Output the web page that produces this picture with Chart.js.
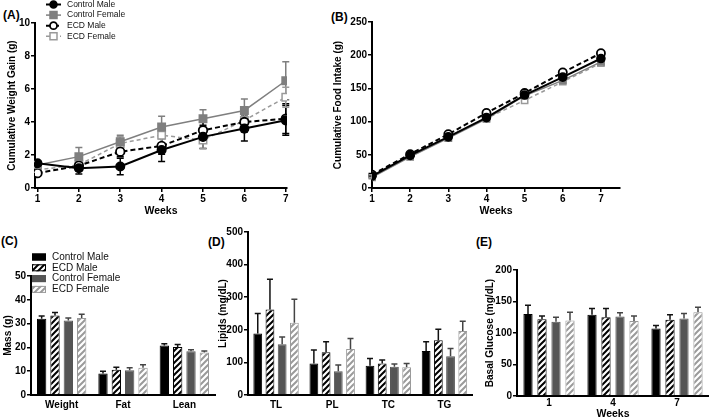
<!DOCTYPE html>
<html>
<head>
<meta charset="utf-8">
<script src="https://cdn.jsdelivr.net/npm/chart.js@4.4.1/dist/chart.umd.min.js"></script>
<style>
  body { margin: 0; background: #fff; width: 709px; height: 420px; overflow: hidden; position: relative;
         font-family: 'Liberation Sans', Arial, sans-serif; }
  canvas { position: absolute; }
  .tag { position: absolute; font-weight: bold; font-size: 12px; line-height: 14px; color: #000; }
</style>
</head>
<body>
<div class="tag" style="left:3px;top:8px">(A)</div>
<div class="tag" style="left:331px;top:10px">(B)</div>
<div class="tag" style="left:1px;top:234px">(C)</div>
<div class="tag" style="left:208px;top:235px">(D)</div>
<div class="tag" style="left:476px;top:235px">(E)</div>

<canvas id="chartA" width="300" height="225" style="left:0;top:0"></canvas>
<canvas id="chartB" width="300" height="225" style="left:328px;top:0"></canvas>
<canvas id="chartC" width="222" height="195" style="left:0;top:225px"></canvas>
<canvas id="chartD" width="267" height="195" style="left:213px;top:225px"></canvas>
<canvas id="chartE" width="229" height="195" style="left:480px;top:225px"></canvas>

<script>
// ---- data ----
const groupLabels = ["Control Male", "Control Female", "ECD Male", "ECD Female"];
const weeks = [1, 2, 3, 4, 5, 6, 7];

// (A) cumulative weight gain (g), mean and SEM
const gainControlMale   = [1.5, 1.2, 1.3, 2.3, 3.1, 3.6, 4.1];
const gainControlFemale = [1.4, 1.9, 2.8, 3.7, 4.2, 4.7, 6.5];
const gainEcdMale       = [0.9, 1.35, 2.2, 2.55, 3.5, 4.0, 4.2];
const gainEcdFemale     = [1.1, 1.4, 2.7, 3.2, 2.9, 4.1, 5.5];
const gainErrControlMale   = [0.15, 0.35, 0.5, 0.7, 0.7, 0.75, 0.9];
const gainErrControlFemale = [0.2, 0.55, 0.4, 0.65, 0.55, 0.7, 1.15];
const gainErrEcdMale       = [0.15, 0.3, 0.3, 0.5, 0.6, 0.6, 0.9];
const gainErrEcdFemale     = [0.15, 0.3, 0.4, 0.5, 0.5, 0.5, 0.6];

// (B) cumulative food intake (g)
const intakeControlMale   = [18, 49, 77, 106, 140, 167, 195];
const intakeControlFemale = [16, 47, 75, 104, 139, 162, 190];
const intakeEcdMale       = [20, 51, 81, 113, 143, 174, 203];
const intakeEcdFemale     = [18, 49, 76, 105, 132, 160, 188];
const intakeErr           = [2, 2, 2, 3, 3, 3, 3];

// (C) body composition (g)
const massCategories = ["Weight", "Fat", "Lean"];
const massControlMale   = [32.0, 9.0, 20.8];
const massEcdMale       = [33.4, 10.6, 20.2];
const massControlFemale = [31.3, 10.4, 18.4];
const massEcdFemale     = [32.4, 11.5, 17.9];
const massErrControlMale   = [1.2, 1.0, 0.7];
const massErrEcdMale       = [1.3, 1.1, 1.0];
const massErrControlFemale = [1.1, 1.1, 0.6];
const massErrEcdFemale     = [1.5, 1.2, 0.6];

// (D) plasma lipids (mg/dL)
const lipidCategories = ["TL", "PL", "TC", "TG"];
const lipidControlMale   = [189, 97, 90, 135];
const lipidEcdMale       = [262, 131, 97, 168];
const lipidControlFemale = [156, 73, 87, 119];
const lipidEcdFemale     = [222, 141, 85, 196];
const lipidErrControlMale   = [61, 41, 22, 28];
const lipidErrEcdMale       = [93, 32, 10, 34];
const lipidErrControlFemale = [22, 19, 8, 24];
const lipidErrEcdFemale     = [72, 32, 12, 30];

// (E) basal glucose (mg/dL)
const glucoseWeeks = ["1", "4", "7"];
const glucoseControlMale   = [130, 129, 107];
const glucoseEcdMale       = [122, 125, 121];
const glucoseControlFemale = [118, 126, 123];
const glucoseEcdFemale     = [120, 119, 133];
const glucoseErrControlMale   = [14, 10, 5];
const glucoseErrEcdMale       = [5, 14, 8];
const glucoseErrControlFemale = [7, 6, 8];
const glucoseErrEcdFemale     = [13, 8, 8];

// ---- common setup ----
const FONT = "'Liberation Sans', Arial, sans-serif";
Chart.defaults.font.family = FONT;
Chart.defaults.color = "#000";
Chart.defaults.animation = false;
Chart.defaults.plugins.legend.display = false;
Chart.defaults.plugins.tooltip.enabled = false;

function hatch(color) {
  const s = 6;
  const c = document.createElement("canvas");
  c.width = s; c.height = s;
  const g = c.getContext("2d");
  g.fillStyle = "#fff";
  g.fillRect(0, 0, s, s);
  g.strokeStyle = color;
  g.lineWidth = 2;
  g.beginPath();
  g.moveTo(0, s); g.lineTo(s, 0);
  g.moveTo(-1, 1); g.lineTo(1, -1);
  g.moveTo(s - 1, s + 1); g.lineTo(s + 1, s - 1);
  g.stroke();
  return g.createPattern(c, "repeat");
}

// error bars (drawn under the marks)
const errorBars = {
  id: "errorBars",
  beforeDatasetsDraw(chart) {
    const ctx = chart.ctx;
    chart.data.datasets.forEach((ds, i) => {
      if (!ds.errors) return;
      const meta = chart.getDatasetMeta(i);
      const yScale = chart.scales[meta.yAxisID];
      ctx.save();
      ctx.strokeStyle = ds.errorColor || "#000";
      ctx.lineWidth = 1.5;
      const cap = ds.errorCap || 3;
      meta.data.forEach((el, j) => {
        const raw = ds.data[j];
        const v = typeof raw === "object" ? raw.y : raw;
        const e = ds.errors[j];
        const top = yScale.getPixelForValue(v + e);
        const bot = ds.errorBoth ? yScale.getPixelForValue(v - e) : el.y;
        ctx.beginPath();
        ctx.moveTo(el.x, bot); ctx.lineTo(el.x, top);
        ctx.moveTo(el.x - cap, top); ctx.lineTo(el.x + cap, top);
        if (ds.errorBoth) { ctx.moveTo(el.x - cap, bot); ctx.lineTo(el.x + cap, bot); }
        ctx.stroke();
      });
      ctx.restore();
    });
  }
};

// small legends drawn straight onto the canvas
function makeLegend(cfg) {
  return {
    id: "panelLegend",
    afterDraw(chart) {
      const ctx = chart.ctx;
      ctx.save();
      ctx.font = cfg.fontSize + "px " + FONT;
      ctx.textBaseline = "middle";
      chart.data.datasets.forEach((ds, i) => {
        const cy = cfg.y + i * cfg.rowH;
        if (cfg.kind === "line") {
          ctx.strokeStyle = ds.borderColor;
          ctx.lineWidth = ds.borderWidth;
          ctx.setLineDash(ds.borderDash || []);
          ctx.beginPath();
          ctx.moveTo(cfg.x, cy); ctx.lineTo(cfg.x + cfg.symW, cy);
          ctx.stroke();
          ctx.setLineDash([]);
          const cx = cfg.x + cfg.symW / 2;
          ctx.fillStyle = ds.pointBackgroundColor;
          ctx.strokeStyle = ds.pointBorderColor;
          ctx.lineWidth = ds.pointBorderWidth;
          ctx.beginPath();
          if (ds.pointStyle === "rect") {
            const h = 3.5;
            ctx.rect(cx - h, cy - h, 2 * h, 2 * h);
          } else {
            ctx.arc(cx, cy, 3.5, 0, Math.PI * 2);
          }
          ctx.fill();
          ctx.stroke();
        } else {
          ctx.fillStyle = ds.backgroundColor;
          ctx.fillRect(cfg.x, cy - cfg.boxH / 2, cfg.symW, cfg.boxH);
          ctx.strokeStyle = ds.borderColor;
          ctx.lineWidth = 1;
          ctx.strokeRect(cfg.x + 0.5, cy - cfg.boxH / 2 + 0.5, cfg.symW - 1, cfg.boxH - 1);
        }
        ctx.fillStyle = "#111";
        ctx.fillText(ds.label, cfg.textX, cy);
      });
      ctx.restore();
    }
  };
}

function yAxis(o) {
  return {
    min: o.min, max: o.max,
    afterFit: (s) => { s.width = o.width; },
    ticks: { stepSize: o.step, color: "#000", padding: 1, font: { size: 10, weight: "bold" } },
    grid: { display: true, drawOnChartArea: false, drawTicks: true, tickLength: 4, color: "#000", lineWidth: 1.5 },
    border: { color: "#000", width: 2 },
    title: { display: true, text: o.title, color: "#000", font: { size: 10, weight: "bold" },
             padding: { top: o.titlePad, bottom: 0 } }
  };
}

function weekAxis(o) {
  return {
    type: "linear", min: o.min, max: o.max,
    afterBuildTicks: (s) => { s.ticks = weeks.map((w) => ({ value: w })); },
    afterFit: (s) => { s.height = o.height; },
    ticks: { color: "#000", padding: 1, font: { size: 10, weight: "bold" } },
    grid: { display: true, drawOnChartArea: false, drawTicks: true, tickLength: 4, color: "#000", lineWidth: 1.5 },
    border: { color: "#000", width: 2 },
    title: { display: true, text: "Weeks", color: "#000", font: { size: 10.5, weight: "bold" },
             padding: { top: 0, bottom: o.titlePad } }
  };
}

function catAxis(o) {
  return {
    type: "category",
    afterFit: (s) => { s.height = o.height; },
    ticks: { color: "#000", padding: o.tickPad, font: { size: 10, weight: "bold" } },
    grid: { display: false, drawTicks: false, tickLength: 0 },
    border: { color: "#000", width: 2 },
    title: { display: !!o.title, text: o.title || "", color: "#000", font: { size: 10.5, weight: "bold" },
             padding: { top: 0, bottom: 0 } }
  };
}

// line series styles, in the order of groupLabels
const lineStyles = [
  { color: "#000", width: 2, dash: [], pointStyle: "circle", radius: 4.5, fill: "#000", pbw: 1.5 },
  { color: "#7f7f7f", width: 1.5, dash: [], pointStyle: "rect", radius: 5.5, fill: "#7f7f7f", pbw: 1.5 },
  { color: "#000", width: 2, dash: [5, 3], pointStyle: "circle", radius: 4.5, fill: "#fff", pbw: 1.8 },
  { color: "#9a9a9a", width: 1.5, dash: [4, 3], pointStyle: "rect", radius: 5.5, fill: "#fff", pbw: 1.5 }
];

function lineSet(idx, values, errors, markerScale) {
  const st = lineStyles[idx];
  return {
    label: groupLabels[idx],
    data: weeks.map((w, i) => ({ x: w, y: values[i] })),
    errors: errors, errorBoth: true, errorColor: st.color, errorCap: 3.5,
    borderColor: st.color, borderWidth: st.width, borderDash: st.dash,
    pointStyle: st.pointStyle, pointRadius: st.radius * markerScale,
    pointBackgroundColor: st.fill, pointBorderColor: st.color, pointBorderWidth: st.pbw,
    tension: 0, fill: false
  };
}

// bar series styles: CM, EM, CF, EF
const barStyles = [
  { label: "Control Male", bg: "#000", border: "#000", err: "#111" },
  { label: "ECD Male", bg: hatch("#000"), border: "#000", err: "#111" },
  { label: "Control Female", bg: "#555", border: "#555", err: "#444" },
  { label: "ECD Female", bg: hatch("#9a9a9a"), border: "#9a9a9a", err: "#444" }
];

function barSets(series, errors, catPct, barPct) {
  return series.map((vals, i) => ({
    label: barStyles[i].label,
    data: vals,
    errors: errors[i], errorColor: barStyles[i].err, errorCap: 3,
    backgroundColor: barStyles[i].bg,
    borderColor: barStyles[i].border,
    borderWidth: 1,
    categoryPercentage: catPct,
    barPercentage: barPct
  }));
}

// ---- (A) weight gain ----
new Chart(document.getElementById("chartA"), {
  type: "line",
  data: {
    datasets: [
      lineSet(0, gainControlMale, gainErrControlMale, 0.95),
      lineSet(1, gainControlFemale, gainErrControlFemale, 0.95),
      lineSet(2, gainEcdMale, gainErrEcdMale, 0.95),
      lineSet(3, gainEcdFemale, gainErrEcdFemale, 0.95)
    ]
  },
  options: {
    responsive: false, devicePixelRatio: 1,
    layout: { padding: { top: 23, right: 13, bottom: 0, left: 0 } },
    scales: {
      x: weekAxis({ min: 0.94, max: 7.03, height: 37, titlePad: 8 }),
      y: yAxis({ min: 0, max: 10, step: 2, width: 35, title: "Cumulative Weight Gain (g)", titlePad: 6 })
    }
  },
  plugins: [errorBars, makeLegend({ kind: "line", x: 46, symW: 15, textX: 67, y: 4.5, rowH: 10.6, fontSize: 8.5 })]
});

// ---- (B) food intake ----
new Chart(document.getElementById("chartB"), {
  type: "line",
  data: {
    datasets: [
      lineSet(0, intakeControlMale, intakeErr, 0.9),
      lineSet(1, intakeControlFemale, intakeErr, 0.8),
      lineSet(2, intakeEcdMale, intakeErr, 0.9),
      lineSet(3, intakeEcdFemale, intakeErr, 0.8)
    ]
  },
  options: {
    responsive: false, devicePixelRatio: 1,
    layout: { padding: { top: 22, right: 8, bottom: 0, left: 0 } },
    scales: {
      x: weekAxis({ min: 1, max: 7.5, height: 37, titlePad: 8 }),
      y: yAxis({ min: 0, max: 250, step: 50, width: 44, title: "Cumulative Food Intake (g)", titlePad: 4 })
    }
  },
  plugins: [errorBars]
});

// ---- (C) body composition ----
new Chart(document.getElementById("chartC"), {
  type: "bar",
  data: {
    labels: massCategories,
    datasets: barSets(
      [massControlMale, massEcdMale, massControlFemale, massEcdFemale],
      [massErrControlMale, massErrEcdMale, massErrControlFemale, massErrEcdFemale],
      0.87, 0.7)
  },
  options: {
    responsive: false, devicePixelRatio: 1,
    layout: { padding: { top: 51, right: 7, bottom: 0, left: 0 } },
    scales: {
      x: catAxis({ height: 25, tickPad: 4 }),
      y: yAxis({ min: 0, max: 50, step: 10, width: 31, title: "Mass (g)", titlePad: 2 })
    }
  },
  plugins: [errorBars, makeLegend({ kind: "box", x: 32, symW: 14, boxH: 7, textX: 52, y: 32, rowH: 10.8, fontSize: 10 })]
});

// ---- (D) lipids ----
new Chart(document.getElementById("chartD"), {
  type: "bar",
  data: {
    labels: lipidCategories,
    datasets: barSets(
      [lipidControlMale, lipidEcdMale, lipidControlFemale, lipidEcdFemale],
      [lipidErrControlMale, lipidErrEcdMale, lipidErrControlFemale, lipidErrEcdFemale],
      0.87, 0.72)
  },
  options: {
    responsive: false, devicePixelRatio: 1,
    layout: { padding: { top: 7, right: 7.5, bottom: 0, left: 0 } },
    scales: {
      x: catAxis({ height: 25, tickPad: 4 }),
      y: yAxis({ min: 0, max: 500, step: 100, width: 35, title: "Lipids (mg/dL)", titlePad: 4 })
    }
  },
  plugins: [errorBars]
});

// ---- (E) basal glucose ----
new Chart(document.getElementById("chartE"), {
  type: "bar",
  data: {
    labels: glucoseWeeks,
    datasets: barSets(
      [glucoseControlMale, glucoseEcdMale, glucoseControlFemale, glucoseEcdFemale],
      [glucoseErrControlMale, glucoseErrEcdMale, glucoseErrControlFemale, glucoseErrEcdFemale],
      0.875, 0.66)
  },
  options: {
    responsive: false, devicePixelRatio: 1,
    layout: { padding: { top: 45, right: 0, bottom: 0, left: 0 } },
    scales: {
      x: catAxis({ height: 24, tickPad: 1, title: "Weeks" }),
      y: yAxis({ min: 0, max: 200, step: 50, width: 37, title: "Basal Glucose (mg/dL)", titlePad: 4 })
    }
  },
  plugins: [errorBars]
});
</script>
</body>
</html>
